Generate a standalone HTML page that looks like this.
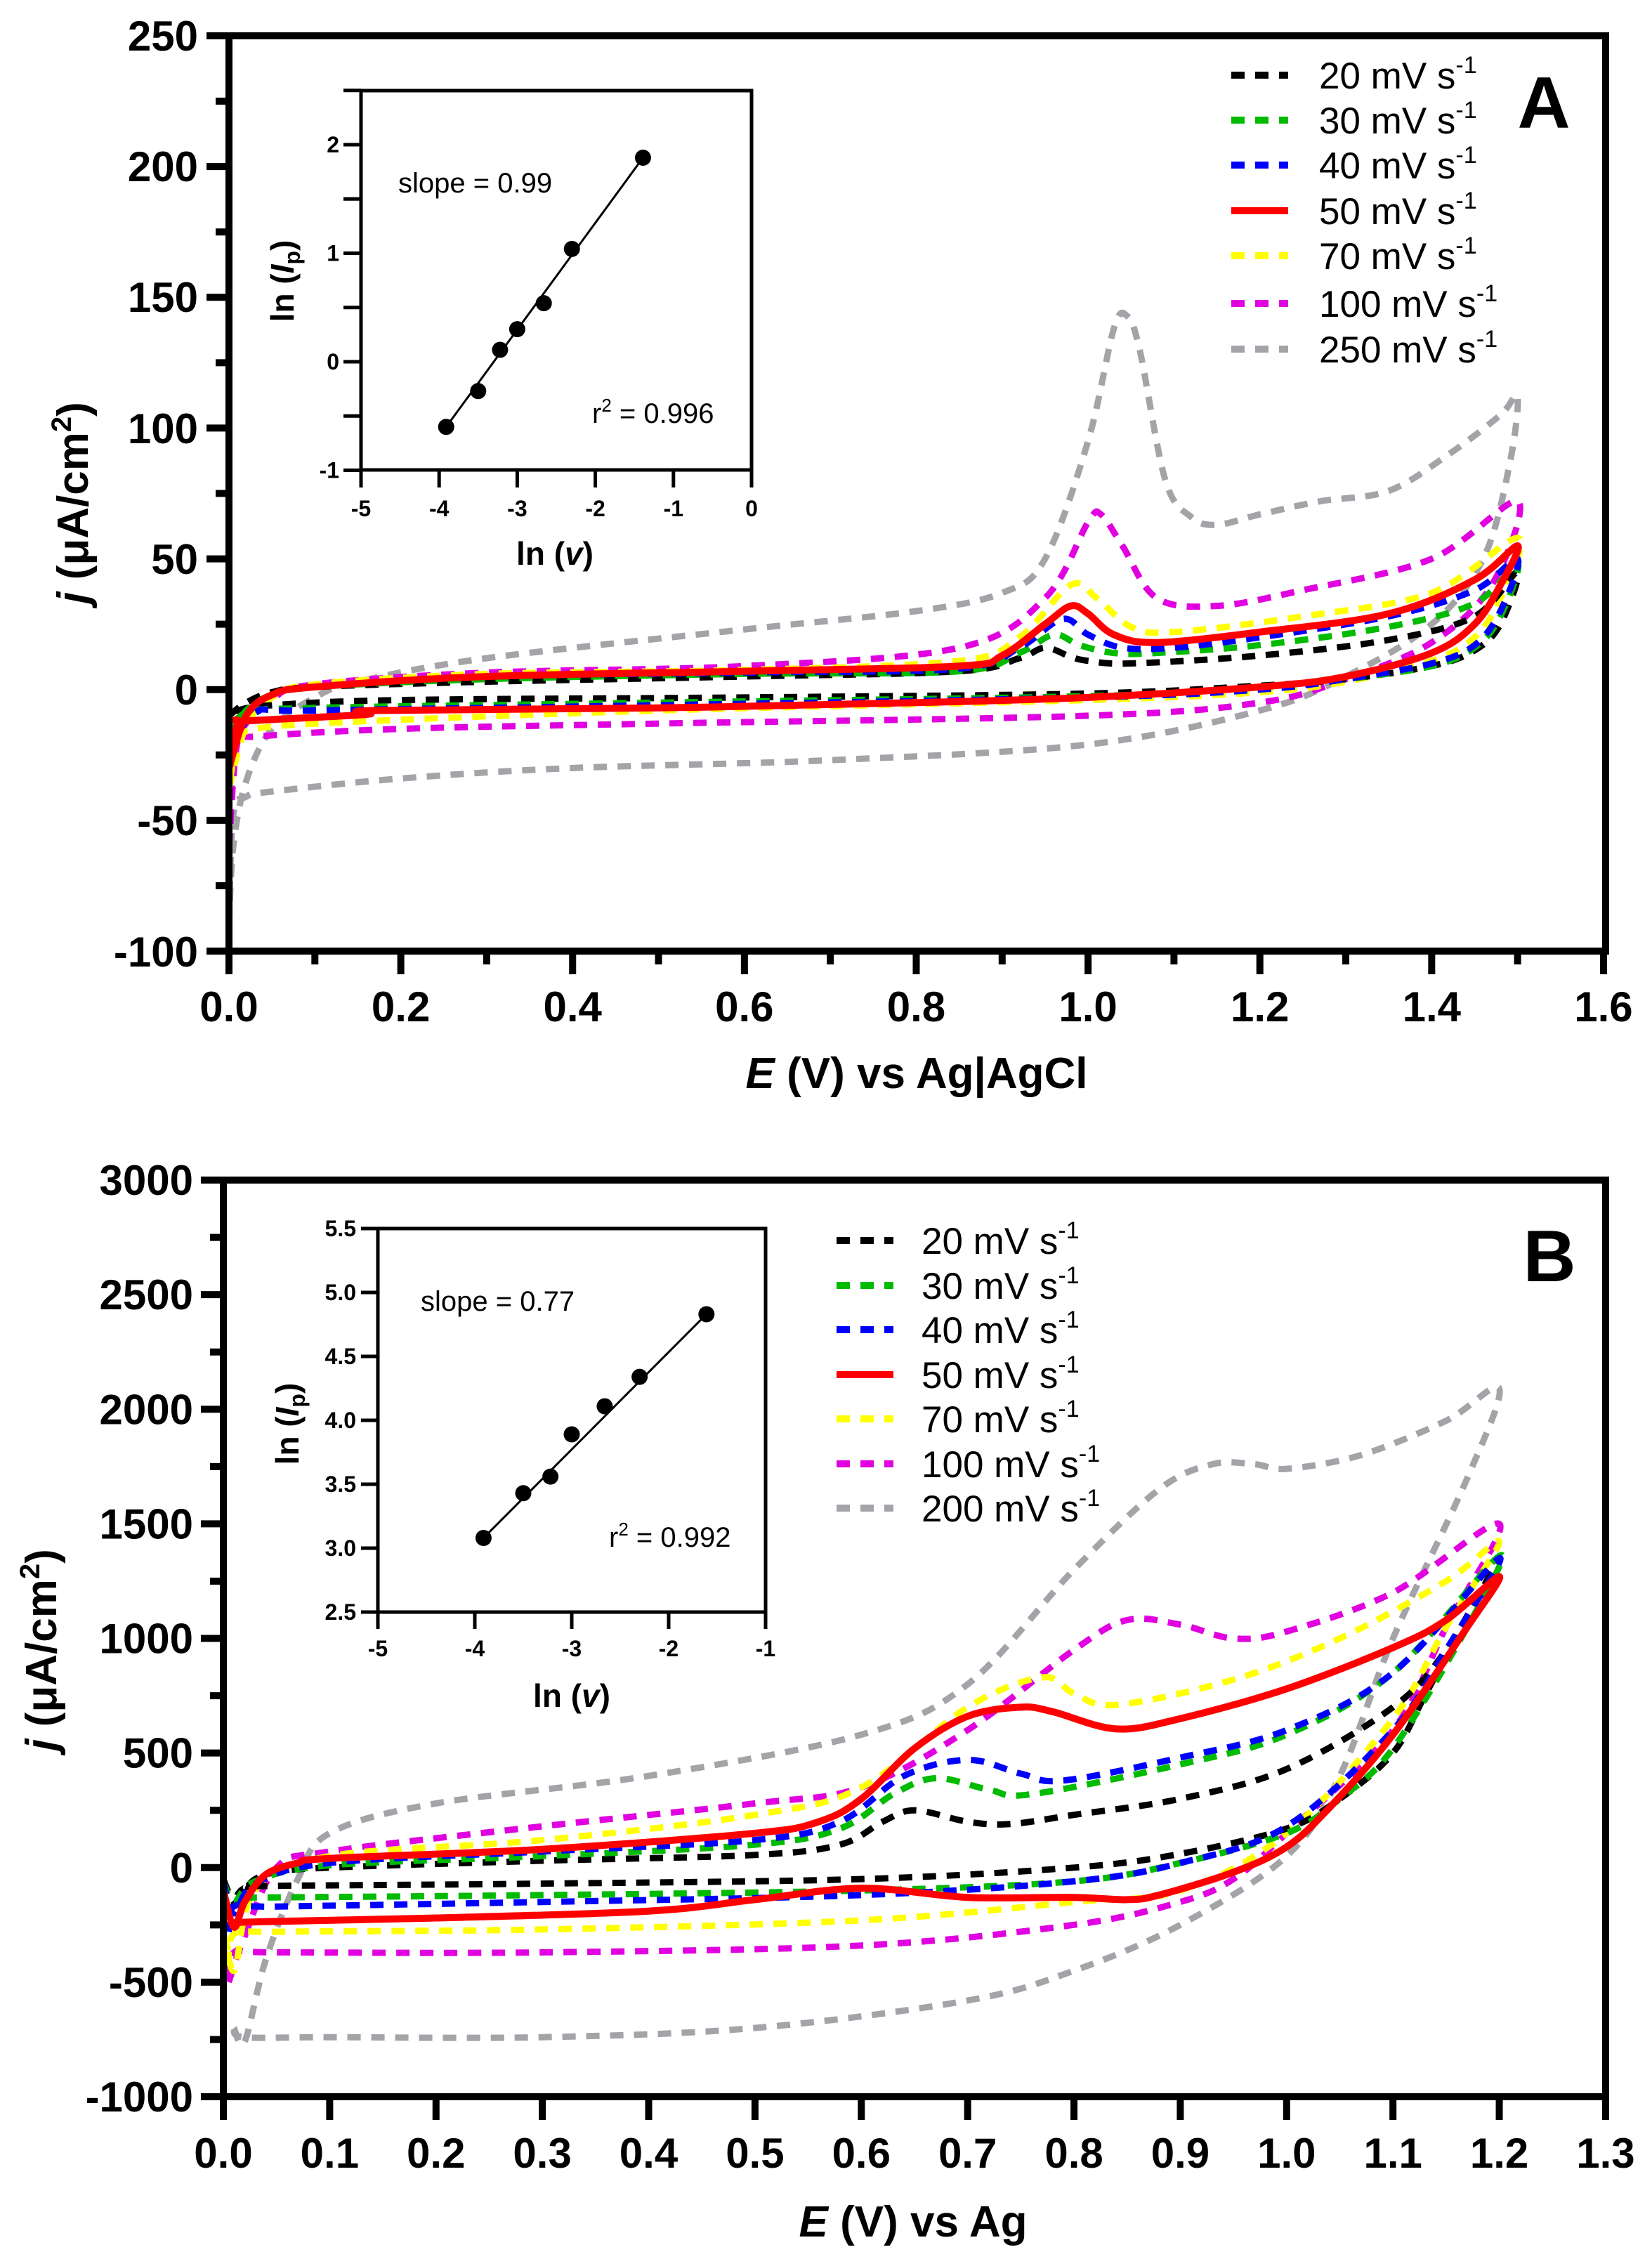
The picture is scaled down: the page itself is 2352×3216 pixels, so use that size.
<!DOCTYPE html>
<html><head><meta charset="utf-8"><style>
html,body{margin:0;padding:0;background:#fff}
svg{display:block}
text{font-family:"Liberation Sans",Arial,sans-serif}
</style></head><body>
<svg id="s" width="2352" height="3216" viewBox="0 0 2352 3216" xmlns="http://www.w3.org/2000/svg">
<rect width="2352" height="3216" fill="#fff"/>
<g id="g"></g>
<g font-weight="bold" font-size="60" text-anchor="end">
<text x="282" y="72">250</text><text x="282" y="258">200</text><text x="282" y="444">150</text>
<text x="282" y="631">100</text><text x="282" y="817">50</text><text x="282" y="1003">0</text>
<text x="282" y="1189">-50</text><text x="282" y="1376">-100</text>
</g>
<text x="1305" y="1549" font-weight="bold" font-size="62" text-anchor="middle"><tspan font-style="italic">E</tspan> (V) vs Ag|AgCl</text>
<text transform="translate(125,716) rotate(-90)" font-weight="bold" font-size="62" text-anchor="middle"><tspan font-style="italic">j</tspan> (μA/cm<tspan dy="-24" font-size="40">2</tspan><tspan dy="24">)</tspan></text>
<text x="2198" y="182" font-weight="bold" font-size="104" text-anchor="middle">A</text>
<text x="567" y="274" font-size="40">slope = 0.99</text>
<text x="843" y="602" font-size="40">r<tspan dy="-16" font-size="26">2</tspan><tspan dy="16"> = 0.996</tspan></text>
<text x="790" y="804" font-weight="bold" font-size="46" text-anchor="middle">ln (<tspan font-style="italic">v</tspan>)</text>
<text transform="translate(418,400) rotate(-90)" font-weight="bold" font-size="46" text-anchor="middle">ln (<tspan font-style="italic">I</tspan><tspan dy="9" font-size="32">p</tspan><tspan dy="-9">)</tspan></text>
<text x="1300" y="3184" font-weight="bold" font-size="62" text-anchor="middle"><tspan font-style="italic">E</tspan> (V) vs Ag</text>
<text transform="translate(80,2349) rotate(-90)" font-weight="bold" font-size="62" text-anchor="middle"><tspan font-style="italic">j</tspan> (μA/cm<tspan dy="-24" font-size="40">2</tspan><tspan dy="24">)</tspan></text>
<text x="2206" y="1824" font-weight="bold" font-size="104" text-anchor="middle">B</text>
<text x="599" y="1866" font-size="40">slope = 0.77</text>
<text x="867" y="2202" font-size="40">r<tspan dy="-16" font-size="26">2</tspan><tspan dy="16"> = 0.992</tspan></text>
<text x="814" y="2430" font-weight="bold" font-size="46" text-anchor="middle">ln (<tspan font-style="italic">v</tspan>)</text>
<text transform="translate(425,2027) rotate(-90)" font-weight="bold" font-size="46" text-anchor="middle">ln (<tspan font-style="italic">I</tspan><tspan dy="9" font-size="32">p</tspan><tspan dy="-9">)</tspan></text>
</svg>
<script>
(function(){
var g=document.getElementById('g');var out='';
function L(x1,y1,x2,y2,w,c){out+='<line x1="'+x1+'" y1="'+y1+'" x2="'+x2+'" y2="'+y2+'" stroke="'+(c||'#000')+'" stroke-width="'+w+'"/>';}
function T(x,y,s,sz,anc,extra){out+='<text x="'+x+'" y="'+y+'" font-size="'+sz+'" font-weight="bold" text-anchor="'+anc+'" '+(extra||'')+'>'+s+'</text>';}
function path(pts){
 var d='M'+pts[0][0].toFixed(1)+','+pts[0][1].toFixed(1);
 for(var i=0;i<pts.length-1;i++){var p0=pts[i-1]||pts[i],p1=pts[i],p2=pts[i+1],p3=pts[i+2]||p2;
  var c1=[p1[0]+(p2[0]-p0[0])/6,p1[1]+(p2[1]-p0[1])/6],c2=[p2[0]-(p3[0]-p1[0])/6,p2[1]-(p3[1]-p1[1])/6];
  d+=' C'+c1[0].toFixed(1)+','+c1[1].toFixed(1)+' '+c2[0].toFixed(1)+','+c2[1].toFixed(1)+' '+p2[0].toFixed(1)+','+p2[1].toFixed(1);}
 return d;}
var COL={k:'#000',g:'#00bb00',b:'#0000ff',r:'#ff0000',y:'#ffff00',m:'#e000e0',s:'#a3a3a8'};
function curve(fx,fy,data,c){var pts=data.map(function(p){return [fx(p[0]),fy(p[1])];});
 out+='<path d="'+path(pts)+'" fill="none" stroke="'+COL[c]+'" stroke-width="'+(c=='r'?10:9)+'" '+(c=='r'?'':'stroke-dasharray="19 15"')+' stroke-linejoin="round"/>';}
function legend(x1,x2,tx,rows,labels){var cs=['k','g','b','r','y','m','s'];
 for(var i=0;i<7;i++){var y=rows[i];out+='<line x1="'+x1+'" y1="'+y+'" x2="'+x2+'" y2="'+y+'" stroke="'+COL[cs[i]]+'" stroke-width="10" '+(cs[i]=='r'?'':'stroke-dasharray="19 15"')+'/>';
 out+='<text x="'+tx+'" y="'+(y+19)+'" font-size="53">'+labels[i]+' mV s<tspan dy="-22" font-size="34">-1</tspan></text>';}}
var ax=function(E){return 326+E*1223.1;}, ay=function(j){return 1354-(j+100)*3.7229;};
var A={
k:[[0,-10],[0.02,-5],[0.05,-1],[0.1,1],[0.3,3],[0.6,5],[0.85,7],[0.92,12],[0.95,16],[0.98,12.5],[1.0,11],[1.05,10],[1.2,13],[1.35,19],[1.45,28],[1.5,45],[1.48,25],[1.45,15],[1.4,9],[1.3,4],[1.2,1.5],[1.0,-1.5],[0.6,-3],[0.2,-4],[0.05,-6],[0.01,-8],[0,-10]],
g:[[0,-18],[0.02,-8],[0.05,-2],[0.1,1],[0.3,4],[0.6,6],[0.85,7],[0.92,14],[0.96,21],[0.99,17],[1.03,14],[1.08,14],[1.2,17],[1.35,24],[1.45,33],[1.5,48],[1.48,28],[1.45,16],[1.4,9],[1.3,4],[1.2,0.5],[1.0,-2.5],[0.5,-5],[0.1,-7],[0.02,-9],[0,-18]],
b:[[0,-25],[0.02,-10],[0.05,-2],[0.1,1],[0.3,5],[0.6,6.5],[0.85,8],[0.92,16],[0.97,27],[1.0,21],[1.04,16],[1.1,16],[1.2,20],[1.35,28],[1.45,38],[1.5,50],[1.48,30],[1.45,17],[1.4,10],[1.3,4],[1.2,0],[1.0,-3],[0.5,-6],[0.1,-8],[0.03,-9],[0,-25]],
y:[[0,-38],[0.02,-14],[0.05,-3],[0.1,2],[0.3,6],[0.6,7.5],[0.85,11],[0.92,20],[0.98,40],[1.01,35],[1.05,24],[1.1,22],[1.25,28],[1.4,37],[1.5,58],[1.48,35],[1.45,20],[1.4,11],[1.3,3],[1.2,-1],[1.0,-4],[0.5,-8],[0.1,-13],[0.02,-16],[0.01,-17],[0,-38]],
m:[[0,-60],[0.01,-20],[0.05,-4],[0.1,2],[0.3,6.5],[0.6,9],[0.85,16],[0.95,35],[1.0,64],[1.015,67],[1.04,55],[1.08,35],[1.15,32],[1.25,38],[1.4,50],[1.5,72],[1.47,40],[1.4,18],[1.3,4],[1.2,-5],[1.0,-10],[0.5,-13],[0.2,-15],[0.03,-18],[0.01,-20],[0,-60]],
s:[[0,-90],[0.005,-60],[0.02,-35],[0.05,-15],[0.1,-3],[0.15,3],[0.3,12],[0.6,23],[0.8,30],[0.9,37],[0.95,50],[1.0,95],[1.03,138],[1.045,143],[1.06,130],[1.09,80],[1.12,66],[1.15,63],[1.2,67],[1.27,72],[1.35,76],[1.42,90],[1.48,105],[1.5,112],[1.49,85],[1.46,50],[1.4,25],[1.3,5],[1.2,-8],[1.0,-21],[0.7,-27],[0.4,-30],[0.2,-34],[0.05,-39],[0.02,-41],[0.005,-48],[0,-90]],
r:[[0,-30],[0.02,-10],[0.05,-2],[0.1,1],[0.3,5],[0.6,7],[0.85,9],[0.9,13],[0.95,25],[0.98,32],[1.0,29],[1.03,21],[1.08,18],[1.2,22],[1.35,29],[1.45,42],[1.5,55],[1.48,40],[1.45,25],[1.4,14],[1.3,5],[1.2,1],[1.0,-3],[0.8,-5],[0.5,-7],[0.17,-8],[0.16,-9.5],[0.02,-12],[0.01,-13],[0,-30]]};
['s','m','y','k','g','b','r'].forEach(function(c){curve(ax,ay,A[c],c);});
L(326,51,2286,51,10);L(2286,46,2286,1359,10);L(326,46,326,1359,10);L(321,1354,2291,1354,10);
for(var v=-100;v<=250;v+=25){var y=ay(v),maj=(v%50==0);L(maj?294:307,y,326,y,10);}
for(var e=0;e<=16;e++){var x=ax(e/10),maj=(e%2==0);L(x,1354,x,maj?1387:1373,10);if(maj)T(x,1454,(e/10).toFixed(1),60,'middle');}
legend(1753,1834,1878,[107,171,235,300,364,432,497],['20','30','40','50','70','100','250']);
var ix=function(v){return 1070+v*111.2;}, iy=function(v){return 515-v*154.5;};
out+='<rect x="514" y="129" width="556" height="540" fill="#fff" stroke="#000" stroke-width="5"/>';
for(var k=-2;k<=5;k++){var v=k/2,y=iy(v);L(489,y,514,y,5);if(k%2==0&&v<=2)T(483,y+11,String(v),32,'end');}
for(var k=-5;k<=0;k++){var x=ix(k);L(x,669,x,694,5);T(x,735,String(k),32,'middle');}
L(ix(-3.91),iy(-0.6),ix(-1.39),iy(1.88),3);
[[-3.91,-0.6],[-3.5,-0.27],[-3.22,0.11],[-3.0,0.3],[-2.66,0.54],[-2.3,1.04],[-1.39,1.88]].forEach(function(p){out+='<circle cx="'+ix(p[0])+'" cy="'+iy(p[1])+'" r="11.5" fill="#000"/>';});
var bx=function(E){return 318+E*1513.8;}, by=function(j){return 2985-(j+1000)*0.32625;};
var B={
k:[[0,-50],[0.01,-150],[0.02,-100],[0.03,-50],[0.05,-20],[0.1,0],[0.3,30],[0.5,55],[0.58,100],[0.62,200],[0.65,250],[0.7,200],[0.74,190],[0.8,230],[0.9,300],[1.0,430],[1.1,700],[1.15,950],[1.2,1350],[1.17,1100],[1.13,750],[1.1,500],[1.05,300],[1.0,170],[0.9,60],[0.8,0],[0.6,-50],[0.3,-70],[0.05,-80],[0.02,-90],[0.01,-150]],
g:[[0,-60],[0.01,-150],[0.03,-60],[0.1,10],[0.3,50],[0.5,100],[0.58,170],[0.63,320],[0.67,390],[0.72,340],[0.76,320],[0.9,450],[1.0,580],[1.1,850],[1.2,1360],[1.17,1050],[1.1,520],[1.05,300],[1.0,150],[0.9,20],[0.8,-60],[0.6,-100],[0.3,-120],[0.05,-130],[0.01,-130]],
b:[[0,-60],[0.01,-200],[0.03,-70],[0.1,20],[0.3,70],[0.5,120],[0.58,200],[0.64,400],[0.7,470],[0.75,410],[0.79,380],[0.9,480],[1.0,600],[1.1,850],[1.2,1350],[1.15,950],[1.1,600],[1.0,180],[0.9,20],[0.8,-60],[0.6,-120],[0.3,-150],[0.05,-170],[0.01,-170],[0.005,-280]],
y:[[0,-200],[0.01,-450],[0.03,-100],[0.1,50],[0.3,120],[0.5,230],[0.6,350],[0.7,700],[0.77,830],[0.8,760],[0.84,710],[0.95,820],[1.05,1000],[1.15,1250],[1.2,1420],[1.15,1050],[1.1,650],[1.0,150],[0.9,-100],[0.8,-150],[0.6,-230],[0.3,-270],[0.05,-280],[0.01,-290],[0.005,-450]],
m:[[0.005,-500],[0.02,-300],[0.05,0],[0.1,70],[0.3,180],[0.5,280],[0.6,350],[0.7,600],[0.8,950],[0.85,1080],[0.9,1060],[0.95,1000],[1.0,1030],[1.1,1200],[1.2,1500],[1.15,1050],[1.1,600],[1.0,150],[0.95,-50],[0.9,-150],[0.8,-250],[0.6,-340],[0.3,-370],[0.05,-370],[0.01,-370],[0.005,-500]],
s:[[0.01,-700],[0.02,-760],[0.04,-400],[0.07,-50],[0.1,150],[0.2,280],[0.4,400],[0.6,580],[0.7,800],[0.8,1300],[0.88,1650],[0.93,1760],[0.97,1760],[1.0,1740],[1.07,1800],[1.15,1950],[1.2,2090],[1.17,1700],[1.1,1000],[1.05,400],[1.0,50],[0.9,-250],[0.8,-450],[0.7,-580],[0.5,-700],[0.3,-740],[0.1,-740],[0.02,-740],[0.01,-700]],
r:[[0,-100],[0.01,-260],[0.02,-150],[0.04,-30],[0.07,20],[0.1,40],[0.3,80],[0.5,150],[0.56,200],[0.6,300],[0.65,520],[0.7,660],[0.75,700],[0.78,680],[0.84,605],[0.9,650],[1.0,780],[1.1,960],[1.15,1080],[1.2,1270],[1.17,1050],[1.1,580],[1.04,260],[1.0,90],[0.95,-20],[0.88,-120],[0.85,-140],[0.8,-130],[0.7,-130],[0.6,-90],[0.5,-140],[0.4,-190],[0.2,-220],[0.05,-235],[0.01,-240]]};
['s','m','y','k','g','b','r'].forEach(function(c){curve(bx,by,B[c],c);});
L(318,1680,2286,1680,10);L(2286,1675,2286,2990,10);L(318,1675,318,2990,10);L(313,2985,2291,2985,10);
for(var v=-1000;v<=3000;v+=250){var y=by(v),maj=(v%500==0);L(maj?286:299,y,318,y,10);if(maj)T(275,y+21,String(v),60,'end');}
for(var e=0;e<=13;e++){var x=bx(e/10);L(x,2985,x,3018,10);T(x,3086,(e/10).toFixed(1),60,'middle');}
legend(1191,1272,1312,[1766,1830,1893,1957,2020,2084,2147],['20','30','40','50','70','100','200']);
var jx=function(v){return 1090+(v+1)*138;}, jy=function(v){return 1749+(5.5-v)*182;};
out+='<rect x="538" y="1749" width="552" height="546" fill="#fff" stroke="#000" stroke-width="5"/>';
for(var k=0;k<=6;k++){var v=2.5+k*0.5,y=jy(v);L(514,y,538,y,5);T(507,y+11,v.toFixed(1),32,'end');}
for(var k=-5;k<=-1;k++){var x=jx(k);L(x,2295,x,2319,5);T(x,2358,String(k),32,'middle');}
L(jx(-3.91),jy(3.08),jx(-1.61),jy(4.83),3);
[[-3.91,3.08],[-3.5,3.43],[-3.22,3.56],[-3.0,3.89],[-2.66,4.11],[-2.3,4.34],[-1.61,4.83]].forEach(function(p){out+='<circle cx="'+jx(p[0])+'" cy="'+jy(p[1])+'" r="11.5" fill="#000"/>';});
g.innerHTML=out;
})();
</script>
</body></html>
